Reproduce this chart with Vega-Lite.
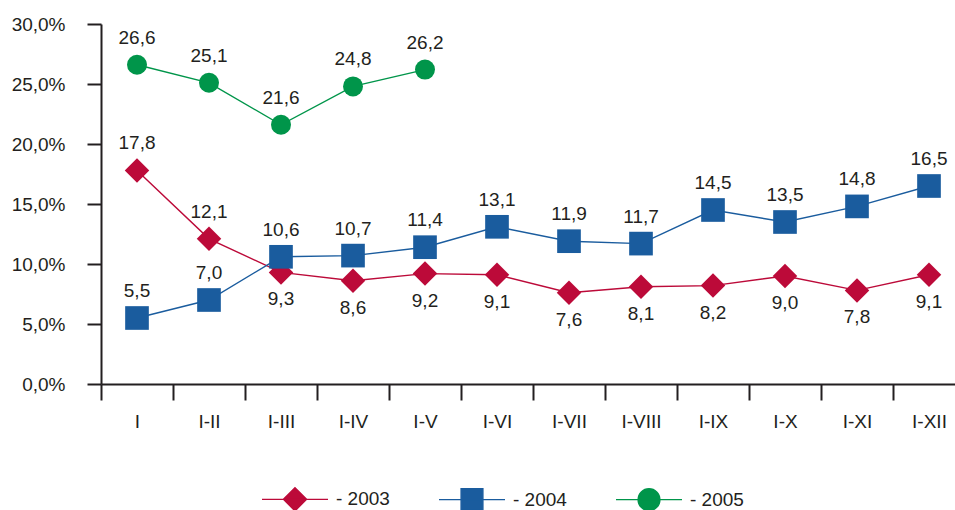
{
  "$schema": "https://vega.github.io/schema/vega-lite/v6.json",
  "width": 864,
  "height": 360,
  "autosize": {"type": "none"},
  "padding": {"left": 101, "top": 24, "right": 0, "bottom": 126},
  "background": "white",
  "config": {
    "locale": {"number": {"decimal": ",", "thousands": ".", "grouping": [3], "currency": ["", ""]}},
    "view": {"stroke": null},
    "font": "Liberation Sans",
    "axis": {"labelFont": "Liberation Sans", "labelColor": "#231f20", "domainColor": "#231f20", "tickColor": "#231f20", "domainWidth": 2, "tickWidth": 2, "grid": false, "title": null}
  },
  "data": {
    "values": [
      {"month": "I", "series": "2003", "value": 17.8},
      {"month": "I-II", "series": "2003", "value": 12.1},
      {"month": "I-III", "series": "2003", "value": 9.3},
      {"month": "I-IV", "series": "2003", "value": 8.6},
      {"month": "I-V", "series": "2003", "value": 9.2},
      {"month": "I-VI", "series": "2003", "value": 9.1},
      {"month": "I-VII", "series": "2003", "value": 7.6},
      {"month": "I-VIII", "series": "2003", "value": 8.1},
      {"month": "I-IX", "series": "2003", "value": 8.2},
      {"month": "I-X", "series": "2003", "value": 9.0},
      {"month": "I-XI", "series": "2003", "value": 7.8},
      {"month": "I-XII", "series": "2003", "value": 9.1},
      {"month": "I", "series": "2004", "value": 5.5},
      {"month": "I-II", "series": "2004", "value": 7.0},
      {"month": "I-III", "series": "2004", "value": 10.6},
      {"month": "I-IV", "series": "2004", "value": 10.7},
      {"month": "I-V", "series": "2004", "value": 11.4},
      {"month": "I-VI", "series": "2004", "value": 13.1},
      {"month": "I-VII", "series": "2004", "value": 11.9},
      {"month": "I-VIII", "series": "2004", "value": 11.7},
      {"month": "I-IX", "series": "2004", "value": 14.5},
      {"month": "I-X", "series": "2004", "value": 13.5},
      {"month": "I-XI", "series": "2004", "value": 14.8},
      {"month": "I-XII", "series": "2004", "value": 16.5},
      {"month": "I", "series": "2005", "value": 26.6},
      {"month": "I-II", "series": "2005", "value": 25.1},
      {"month": "I-III", "series": "2005", "value": 21.6},
      {"month": "I-IV", "series": "2005", "value": 24.8},
      {"month": "I-V", "series": "2005", "value": 26.2}
    ]
  },
  "encoding": {
    "x": {
      "field": "month", "type": "nominal", "bandPosition": 0.5,
      "sort": ["I", "I-II", "I-III", "I-IV", "I-V", "I-VI", "I-VII", "I-VIII", "I-IX", "I-X", "I-XI", "I-XII"],
      "scale": {"type": "band", "paddingInner": 0, "paddingOuter": 0},
      "axis": {"labelAngle": 0, "tickBand": "extent", "tickSize": 16, "labelPadding": 12, "labelFontSize": 19}
    },
    "y": {
      "field": "value", "type": "quantitative",
      "scale": {"domain": [0, 30], "nice": false},
      "axis": {"values": [0, 5, 10, 15, 20, 25, 30], "tickSize": 14, "labelPadding": 22, "labelFontSize": 19, "format": ".1f", "labelExpr": "datum.label + '%'"}
    }
  },
  "layer": [
    {
      "mark": {"type": "line", "strokeWidth": 1.4},
      "encoding": {
        "color": {
          "field": "series", "type": "nominal",
          "scale": {"domain": ["2003", "2004", "2005"], "range": ["#BC0A39", "#1A5C9E", "#00954A"]},
          "legend": {
            "orient": "none", "legendX": 160, "legendY": 441, "direction": "horizontal", "title": null,
            "labelFont": "Liberation Sans", "labelFontSize": 19, "labelColor": "#231f20",
            "symbolSize": 4356, "labelOffset": 7, "columnPadding": 46,
            "labelExpr": "'- ' + datum.label",
            "encode": {
              "symbols": {
                "update": {
                  "shape": {"signal": "datum.value === '2003' ? 'M-1,0H1M0,-0.35L0.35,0L0,0.35L-0.35,0Z' : datum.value === '2004' ? 'M-1,0H1M-0.33,-0.33H0.33V0.33H-0.33Z' : 'M-1,0H1M-0.33,0A0.33,0.33 0 1,0 0.33,0A0.33,0.33 0 1,0 -0.33,0Z'"},
                  "fill": {"scale": "color", "field": "value"},
                  "stroke": {"scale": "color", "field": "value"},
                  "strokeWidth": {"value": 1.4},
                  "opacity": {"value": 1},
                  "fillOpacity": {"value": 1}
                }
              }
            }
          }
        }
      }
    },
    {
      "transform": [{"filter": "datum.series === '2003'"}],
      "mark": {"type": "point", "shape": "diamond", "size": 600, "filled": true, "opacity": 1},
      "encoding": {"color": {"field": "series", "type": "nominal"}}
    },
    {
      "transform": [{"filter": "datum.series === '2004'"}],
      "mark": {"type": "point", "shape": "square", "size": 560, "filled": true, "opacity": 1},
      "encoding": {"color": {"field": "series", "type": "nominal"}}
    },
    {
      "transform": [{"filter": "datum.series === '2005'"}],
      "mark": {"type": "point", "shape": "circle", "size": 400, "filled": true, "opacity": 1},
      "encoding": {"color": {"field": "series", "type": "nominal"}}
    },
    {
      "transform": [
        {"filter": "datum.series !== '2003' || datum.month === 'I' || datum.month === 'I-II'"}
      ],
      "mark": {"type": "text", "dy": -27, "fontSize": 19, "font": "Liberation Sans", "color": "#231f20"},
      "encoding": {"text": {"field": "value", "type": "quantitative", "format": ".1f"}}
    },
    {
      "transform": [
        {"filter": "datum.series === '2003' && datum.month !== 'I' && datum.month !== 'I-II'"}
      ],
      "mark": {"type": "text", "dy": 27, "fontSize": 19, "font": "Liberation Sans", "color": "#231f20"},
      "encoding": {"text": {"field": "value", "type": "quantitative", "format": ".1f"}}
    }
  ]
}
